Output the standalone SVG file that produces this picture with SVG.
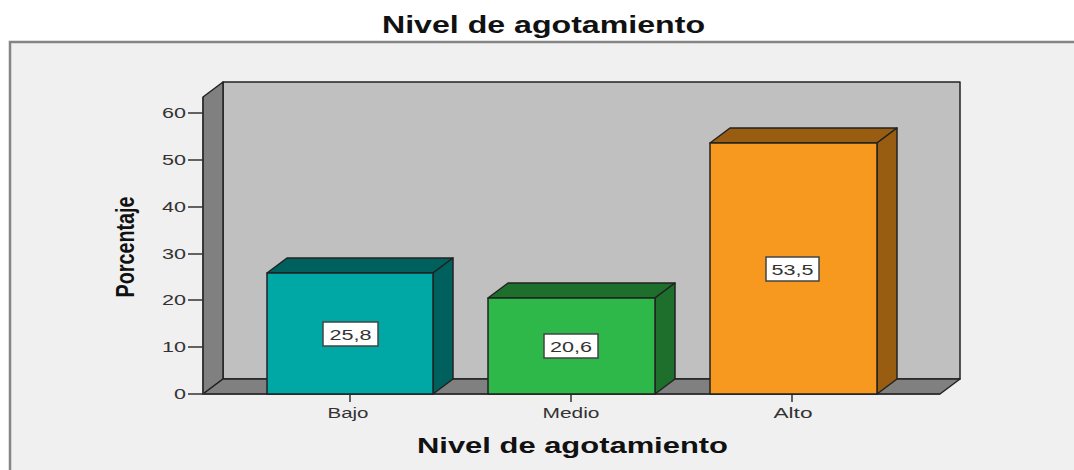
<svg xmlns="http://www.w3.org/2000/svg" width="1074" height="470" viewBox="0 0 1074 470">
<style>
.t{font-family:"Liberation Sans",Arial,sans-serif;font-weight:bold;fill:#111}
.tk{font-family:"Liberation Sans",Arial,sans-serif;font-size:14px;fill:#333}
.cat{font-family:"Liberation Sans",Arial,sans-serif;font-size:14px;fill:#333;text-anchor:middle}
.val{font-family:"Liberation Sans",Arial,sans-serif;font-size:15px;fill:#333;text-anchor:middle}
.ol{stroke:#222;stroke-width:1.5;stroke-linejoin:round}
.box{fill:#fff;stroke:#444;stroke-width:1.5}
.ax{stroke:#333;stroke-width:1.5;fill:none}
</style>
<rect width="1074" height="470" fill="#fff"/>
<rect x="10" y="42" width="1070" height="440" fill="#f0f0f0" stroke="#858585" stroke-width="2.5"/>
<text class="t" x="382" y="33" font-size="23" textLength="323" lengthAdjust="spacingAndGlyphs">Nivel de agotamiento</text>
<g id="walls">
<polygon class="ol" points="223,82 960,82 960,379 223,379" fill="#c0c0c0"/>
<polygon class="ol" points="203,97 223,82 223,379 203,394" fill="#808080"/>
<polygon class="ol" points="203,394 223,379 960,379 940,394" fill="#808080"/>
</g>
<g id="axis">
<line class="ax" x1="203" y1="97" x2="203" y2="394"/>
<line class="ax" x1="188" y1="394" x2="940" y2="394"/>
<g class="ax">
<line x1="188" y1="113" x2="203" y2="113"/>
<line x1="188" y1="160" x2="203" y2="160"/>
<line x1="188" y1="207" x2="203" y2="207"/>
<line x1="188" y1="254" x2="203" y2="254"/>
<line x1="188" y1="300" x2="203" y2="300"/>
<line x1="188" y1="347" x2="203" y2="347"/>
<line x1="350" y1="394" x2="350" y2="402"/>
<line x1="571" y1="394" x2="571" y2="402"/>
<line x1="792" y1="394" x2="792" y2="402"/>
</g>
<g class="tk" text-anchor="end">
<text x="186" y="118" textLength="24" lengthAdjust="spacingAndGlyphs">60</text>
<text x="186" y="165" textLength="24" lengthAdjust="spacingAndGlyphs">50</text>
<text x="186" y="212" textLength="24" lengthAdjust="spacingAndGlyphs">40</text>
<text x="186" y="259" textLength="24" lengthAdjust="spacingAndGlyphs">30</text>
<text x="186" y="305" textLength="24" lengthAdjust="spacingAndGlyphs">20</text>
<text x="186" y="352" textLength="24" lengthAdjust="spacingAndGlyphs">10</text>
<text x="186" y="399" textLength="12" lengthAdjust="spacingAndGlyphs">0</text>
</g>
</g>
<g id="bar-bajo">
<polygon class="ol" points="267,273 287,258 453,258 433,273" fill="#00605e"/>
<polygon class="ol" points="433,273 453,258 453,379 433,394" fill="#00605e"/>
<rect class="ol" x="267" y="273" width="166" height="121" fill="#00a8a5"/>
<rect class="box" x="323" y="322" width="55" height="24"/>
<text class="val" x="350.5" y="339.5" textLength="42" lengthAdjust="spacingAndGlyphs">25,8</text>
</g>
<g id="bar-medio">
<polygon class="ol" points="488,298 508,283 675,283 655,298" fill="#1e6e2c"/>
<polygon class="ol" points="655,298 675,283 675,379 655,394" fill="#1e6e2c"/>
<rect class="ol" x="488" y="298" width="167" height="96" fill="#2fb84a"/>
<rect class="box" x="544" y="334" width="54" height="24"/>
<text class="val" x="571" y="351.5" textLength="42" lengthAdjust="spacingAndGlyphs">20,6</text>
</g>
<g id="bar-alto">
<polygon class="ol" points="710,143 730,128 897,128 877,143" fill="#995d12"/>
<polygon class="ol" points="877,143 897,128 897,379 877,394" fill="#995d12"/>
<rect class="ol" x="710" y="143" width="167" height="251" fill="#f7991f"/>
<rect class="box" x="766" y="257" width="53" height="24"/>
<text class="val" x="792.5" y="274.5" textLength="42" lengthAdjust="spacingAndGlyphs">53,5</text>
</g>
<g id="categories">
<text class="cat" x="348" y="418" textLength="41" lengthAdjust="spacingAndGlyphs">Bajo</text>
<text class="cat" x="571" y="418" textLength="57" lengthAdjust="spacingAndGlyphs">Medio</text>
<text class="cat" x="793" y="418" textLength="39" lengthAdjust="spacingAndGlyphs">Alto</text>
</g>
<text class="t" x="417" y="453" font-size="22" textLength="311" lengthAdjust="spacingAndGlyphs">Nivel de agotamiento</text>
<text class="t" font-size="20" text-anchor="middle" transform="translate(134,247) scale(1.3,1) rotate(-90)" textLength="101" lengthAdjust="spacingAndGlyphs">Porcentaje</text>
</svg>
